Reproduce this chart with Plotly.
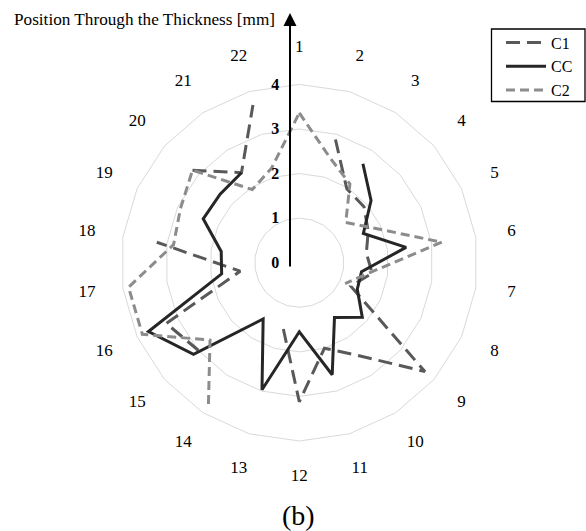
import plotly.graph_objects as go

# Angular categories (positions through the thickness)
categories = ["1", "2", "3", "4", "5", "6", "7", "8", "9", "10", "11",
              "12", "13", "14", "15", "16", "17", "18", "19", "20", "21", "22"]

# Series values in mm (None = no measurement at that position)
c1_values = [None, 2.88, 1.97, 1.92, 1.70, 1.52, 1.65, 1.27, 3.73, 2.48, 2.00,
             3.12, 1.39, None, 3.00, 3.28, 1.34, 3.23, None, 3.17, 2.40, 3.69]
cc_values = [None, None, 2.64, 2.13, 1.58, 2.42, 1.41, 1.43, 1.87, 1.46, 2.62,
             1.55, 2.97, 1.50, 3.14, 3.72, 1.76, 1.77, 2.37, 2.35, 2.40, None]
c2_values = [3.36, 2.45, 2.10, 1.38, 1.86, 3.23, 1.59, 1.13, None, None, None,
             None, None, 3.77, 2.65, 3.87, 3.87, 2.85, 2.93, 3.17, 1.95, 2.21]

radial_ticks = [0, 1, 2, 3, 4]

W, H = 586, 531
SERIF = "Liberation Serif, Times New Roman, serif"


def closed(values):
    # repeat the first category so the radar outline closes on itself
    return values + values[:1], categories + categories[:1]


def square_domain(cx, cy, rad):
    # paper-fraction domain of a circle centred at (cx, cy) px (from top-left)
    return dict(x=[(cx - rad) / W, (cx + rad) / W],
                y=[(H - cy - rad) / H, (H - cy + rad) / H])


fig = go.Figure()
series = [
    ("C1", c1_values, dict(color="#595959", width=3, dash="14px,7px")),
    ("CC", cc_values, dict(color="#262626", width=3)),
    ("C2", c2_values, dict(color="#8c8c8c", width=3, dash="9px,5px")),
]
for name, vals, line in series:
    r, th = closed(vals)
    fig.add_trace(go.Scatterpolar(
        r=r, theta=th, mode="lines", name=name, line=line,
        connectgaps=False,
    ))

# category labels sit on the rim of a second, invisible polar frame
fig.add_trace(go.Scatterpolar(
    r=[1] * len(categories), theta=categories, mode="text",
    text=categories, textposition="middle center",
    textfont=dict(family=SERIF, size=17, color="black"),
    cliponaxis=False, showlegend=False, hoverinfo="skip",
    subplot="polar2",
))

cx, cy = 299.3, 262.7
grid_rad, label_rad = 178.3, 214.5

angular_common = dict(type="category", categoryarray=categories,
                      rotation=90, direction="clockwise")

fig.update_layout(
    width=W, height=H,
    margin=dict(l=0, r=0, t=0, b=0),
    paper_bgcolor="white",
    font=dict(family=SERIF, color="black"),
    polar=dict(
        domain=square_domain(cx, cy, grid_rad),
        bgcolor="white",
        gridshape="linear",
        angularaxis=dict(
            **angular_common,
            showgrid=False,
            showline=True,
            linecolor="#d9d9d9",
            linewidth=1,
            ticks="",
            showticklabels=False,
        ),
        radialaxis=dict(
            range=[0, 4],
            tickvals=radial_ticks,
            ticktext=[str(v) for v in radial_ticks],
            angle=90,
            tickangle=90,
            side="counterclockwise",
            showline=False,
            showgrid=True,
            gridcolor="#d9d9d9",
            gridwidth=1,
            ticks="outside",
            ticklen=14,
            tickcolor="rgba(0,0,0,0)",
            tickfont=dict(family=SERIF, size=16, color="black", weight="bold"),
        ),
    ),
    polar2=dict(
        domain=square_domain(cx, cy, label_rad),
        bgcolor="rgba(0,0,0,0)",
        angularaxis=dict(**angular_common, showgrid=False, showline=False,
                         ticks="", showticklabels=False),
        radialaxis=dict(range=[0, 1], visible=False),
    ),
    showlegend=True,
    legend=dict(
        x=501 / W, xanchor="left",
        y=1 - 25.5 / H, yanchor="top",
        bgcolor="rgba(0,0,0,0)",
        borderwidth=0,
        itemwidth=40,
        font=dict(family=SERIF, size=16, color="black"),
        tracegroupgap=0,
    ),
)

# legend frame
fig.add_shape(type="rect", xref="paper", yref="paper",
              x0=491.5 / W, x1=585 / W, y0=1 - 101.5 / H, y1=1 - 29 / H,
              line=dict(color="black", width=1.3), fillcolor="rgba(0,0,0,0)")

# vertical arrow of the thickness axis
fig.add_annotation(xref="paper", yref="paper",
                   x=290 / W, y=1 - 13 / H, ax=0, ay=255,
                   text="", showarrow=True, arrowhead=2, arrowsize=1.3,
                   arrowwidth=2, arrowcolor="black", standoff=0)

# axis title
fig.add_annotation(xref="paper", yref="paper",
                   x=277 / W, y=1 - 19 / H, xanchor="right", yanchor="middle",
                   text="Position Through the Thickness [mm]", showarrow=False,
                   font=dict(family=SERIF, size=17.2, color="black"))

# panel label
fig.add_annotation(xref="paper", yref="paper",
                   x=298 / W, y=1 - 515 / H, xanchor="center", yanchor="middle",
                   text="(b)", showarrow=False,
                   font=dict(family=SERIF, size=28, color="black"))

fig.write_html("out.html")
